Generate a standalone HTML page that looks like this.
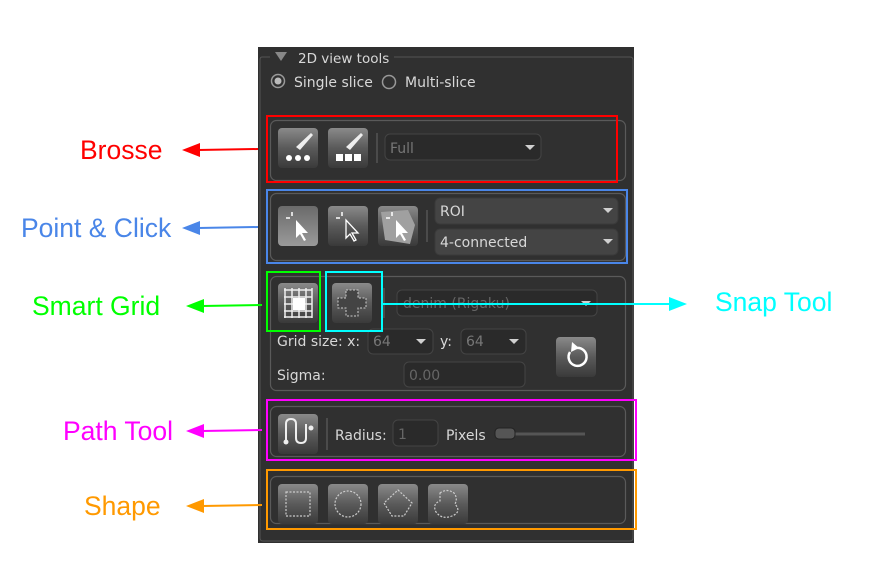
<!DOCTYPE html>
<html><head><meta charset="utf-8"><style>
html,body{margin:0;padding:0;background:#fff;width:876px;height:571px;overflow:hidden}
svg{display:block}
.ui{font-family:"DejaVu Sans","Liberation Sans",sans-serif;font-size:14px;fill:#d8d8d8}
.lab{font-family:"Liberation Sans",sans-serif;font-size:26.5px}
</style></head><body>
<svg width="876" height="571" viewBox="0 0 876 571" xmlns="http://www.w3.org/2000/svg">
<defs>
<linearGradient id="btn" x1="0" y1="0" x2="0" y2="1">
<stop offset="0" stop-color="#8a8a8a"/><stop offset="0.5" stop-color="#5a5a5a"/><stop offset="1" stop-color="#3a3a3a"/></linearGradient>
<linearGradient id="btn2" x1="0" y1="0" x2="0" y2="1">
<stop offset="0" stop-color="#6a6a6a"/><stop offset="1" stop-color="#9a9a9a"/></linearGradient>
<g id="tri"><path d="M0 0 L10 0 L5 5 Z" fill="#d0d0d0"/></g>
</defs>
<rect x="258" y="47" width="376" height="496" fill="#303030"/>
<path d="M270 57 H262 Q260 57 260 60 V538 Q260 541 263 541 H630 Q633 541 633 538 V60 Q633 57 630 57 H394" fill="none" stroke="#555" stroke-width="1"/>
<path d="M275 52 L287 52 L281 61 Z" fill="#888"/>
<text x="298" y="63" class="ui" style="font-size:13.5px">2D view tools</text>
<circle cx="278" cy="81" r="6.5" fill="none" stroke="#999" stroke-width="1.5"/><circle cx="278" cy="81" r="3.5" fill="#bbb"/>
<text x="294" y="87" class="ui">Single slice</text>
<circle cx="389" cy="82" r="6.5" fill="none" stroke="#999" stroke-width="1.5"/>
<text x="405" y="87" class="ui">Multi-slice</text>

<g fill="none" stroke="#5a5a5a" stroke-width="1.2">
<rect x="270.5" y="120.5" width="355" height="60" rx="6"/>
<rect x="270.5" y="193.5" width="355" height="67" rx="6"/>
<rect x="270.5" y="276.5" width="355" height="114" rx="6"/>
<rect x="270.5" y="406.5" width="355" height="50" rx="6"/>
<rect x="270.5" y="476.5" width="355" height="47" rx="6"/>
</g>

<rect x="278" y="128" width="40" height="40" rx="4" fill="url(#btn)"/>
<rect x="328" y="128" width="40" height="40" rx="4" fill="url(#btn)"/>
<path d="M296 147 L311 133 L313 135 L300 150 Z" fill="#eee"/>
<circle cx="289" cy="158" r="3" fill="#fff"/><circle cx="298" cy="158" r="3" fill="#fff"/><circle cx="307" cy="158" r="3" fill="#fff"/>
<path d="M346 147 L361 133 L363 135 L350 150 Z" fill="#eee"/>
<rect x="336" y="154" width="7" height="7" fill="#fff"/><rect x="345" y="154" width="7" height="7" fill="#fff"/><rect x="354" y="154" width="7" height="7" fill="#fff"/>
<line x1="377" y1="133" x2="377" y2="163" stroke="#666"/>
<rect x="385" y="134" width="156" height="26" rx="5" fill="#2a2a2a" stroke="#444"/>
<text x="390" y="153" class="ui" style="fill:#777">Full</text>
<use href="#tri" x="525" y="145"/>

<rect x="278" y="206" width="40" height="40" rx="4" fill="url(#btn2)"/>
<rect x="328" y="206" width="40" height="40" rx="4" fill="url(#btn)"/>
<rect x="378" y="206" width="40" height="40" rx="4" fill="url(#btn)"/>
<path d="M381 212 L408 210 L415 225 L410 244 L385 240 Z" fill="#a0a0a0"/>
<g fill="#fff"><path d="M296 220 L296 238 L300 234 L304 241 L306 240 L302 233 L308 233 Z"/>
<path d="M346 220 L346 238 L350 234 L354 241 L356 240 L352 233 L358 233 Z" fill="none" stroke="#fff" stroke-width="1.3"/>
<path d="M396 220 L396 238 L400 234 L404 241 L406 240 L402 233 L408 233 Z"/></g>
<g stroke="#fff" stroke-width="1.5"><line x1="292" y1="212" x2="292" y2="216"/><line x1="286" y1="218" x2="290" y2="218"/><line x1="342" y1="212" x2="342" y2="216"/><line x1="336" y1="218" x2="340" y2="218"/><line x1="392" y1="212" x2="392" y2="216"/><line x1="386" y1="218" x2="390" y2="218"/></g>
<line x1="427" y1="210" x2="427" y2="242" stroke="#666"/>
<rect x="435" y="198" width="183" height="26" rx="5" fill="#444" stroke="#3a3a3a"/>
<text x="440" y="216" class="ui">ROI</text><use href="#tri" x="603" y="208"/>
<rect x="435" y="229" width="183" height="26" rx="5" fill="#444" stroke="#3a3a3a"/>
<text x="440" y="247" class="ui">4-connected</text><use href="#tri" x="603" y="239"/>

<rect x="278" y="283" width="40" height="40" rx="4" fill="url(#btn)"/>
<g stroke="#eee" stroke-width="1.5"><line x1="284" y1="290" x2="312" y2="290"/><line x1="284" y1="297" x2="312" y2="297"/><line x1="284" y1="304" x2="312" y2="304"/><line x1="284" y1="311" x2="312" y2="311"/><line x1="284" y1="317" x2="312" y2="317"/>
<line x1="285" y1="288" x2="285" y2="318"/><line x1="292" y1="288" x2="292" y2="318"/><line x1="299" y1="288" x2="299" y2="318"/><line x1="306" y1="288" x2="306" y2="318"/><line x1="312" y1="288" x2="312" y2="318"/></g>
<rect x="293" y="298" width="12" height="12" fill="#fff"/>
<rect x="332" y="283" width="40" height="40" rx="4" fill="url(#btn)"/>
<path d="M346 290 H358 V298 H366 V308 H358 V316 H346 V308 H338 V298 H346 Z" fill="#444" stroke="#ccc" stroke-dasharray="2 1.5"/>
<line x1="384" y1="288" x2="384" y2="318" stroke="#666"/>
<rect x="397" y="290" width="200" height="26" rx="5" fill="#2a2a2a" stroke="#444"/>
<text x="403" y="308" class="ui" style="fill:#666">denim (Rigaku)</text><use href="#tri" x="581" y="301"/>
<text x="277" y="346" class="ui">Grid size:  x:</text>
<rect x="368" y="329" width="65" height="25" rx="5" fill="#2a2a2a" stroke="#444"/>
<text x="373" y="346" class="ui" style="fill:#777">64</text><use href="#tri" x="416" y="339"/>
<text x="440" y="346" class="ui">y:</text>
<rect x="461" y="329" width="65" height="25" rx="5" fill="#2a2a2a" stroke="#444"/>
<text x="466" y="346" class="ui" style="fill:#777">64</text><use href="#tri" x="509" y="339"/>
<text x="277" y="380" class="ui">Sigma:</text>
<rect x="404" y="362" width="121" height="25" rx="5" fill="#2a2a2a" stroke="#444"/>
<text x="409" y="380" class="ui" style="fill:#666">0.00</text>
<rect x="556" y="337" width="40" height="40" rx="4" fill="url(#btn)"/>
<path d="M570 352 A9 9 0 1 0 576 348" fill="none" stroke="#fff" stroke-width="2.5"/><path d="M572 342 L579 348 L571 352 Z" fill="#fff"/>

<rect x="278" y="414" width="40" height="40" rx="4" fill="url(#btn)"/>
<path d="M286 440 V424 Q286 419 291 419 Q296 419 296 424 V438 Q296 443 301 443 Q306 443 306 438 V424" fill="none" stroke="#eee" stroke-width="2"/>
<circle cx="286" cy="442" r="2.5" fill="#eee"/><circle cx="311" cy="428" r="2.5" fill="#eee"/>
<line x1="327" y1="418" x2="327" y2="450" stroke="#666"/>
<text x="335" y="440" class="ui">Radius:</text>
<rect x="393" y="420" width="45" height="26" rx="5" fill="#2a2a2a" stroke="#444"/>
<text x="398" y="439" class="ui" style="fill:#666">1</text>
<text x="446" y="440" class="ui">Pixels</text>
<line x1="500" y1="434" x2="585" y2="434" stroke="#555" stroke-width="3"/>
<rect x="495" y="428" width="20" height="11" rx="4" fill="#555" stroke="#222"/>

<g fill="url(#btn)"><rect x="278" y="484" width="40" height="40" rx="4"/><rect x="328" y="484" width="40" height="40" rx="4"/><rect x="378" y="484" width="40" height="40" rx="4"/><rect x="428" y="484" width="40" height="40" rx="4"/></g>
<g fill="none" stroke="#ccc" stroke-dasharray="2 1.5" stroke-width="1.2">
<rect x="286" y="492" width="24" height="24"/>
<circle cx="348" cy="504" r="13"/>
<path d="M398 490 L412 503 L404 516 L392 516 L384 503 Z"/>
<path d="M440 493 Q447 488 454 493 Q458 498 455 504 Q462 512 452 516 Q442 520 436 512 Q432 504 440 501 Z"/>
</g>

<g fill="none" stroke-width="2">
<rect x="267" y="116" width="350" height="66" stroke="#ff0000"/>
<rect x="267" y="190" width="360" height="73" stroke="#4a86e8"/>
<rect x="267" y="272" width="53" height="59" stroke="#00ff00"/>
<rect x="326" y="272" width="56" height="59" stroke="#00ffff"/>
<rect x="267" y="400" width="369" height="60" stroke="#ff00ff"/>
<rect x="267" y="470" width="369" height="59" stroke="#ff9900"/>
</g>

<g stroke-width="2">
<line x1="258" y1="149" x2="198" y2="150" stroke="#ff0000"/><path d="M182 150 L200 143 L200 157 Z" fill="#ff0000"/>
<line x1="258" y1="227" x2="198" y2="228" stroke="#4a86e8"/><path d="M182 228 L200 221 L200 235 Z" fill="#4a86e8"/>
<line x1="262" y1="305" x2="202" y2="306" stroke="#00ff00"/><path d="M186 306 L204 299 L204 313 Z" fill="#00ff00"/>
<line x1="262" y1="430" x2="202" y2="431" stroke="#ff00ff"/><path d="M186 431 L204 424 L204 438 Z" fill="#ff00ff"/>
<line x1="262" y1="505" x2="202" y2="506" stroke="#ff9900"/><path d="M186 506 L204 499 L204 513 Z" fill="#ff9900"/>
<line x1="382" y1="304" x2="670" y2="304" stroke="#00ffff"/><path d="M687 304 L669 297 L669 311 Z" fill="#00ffff"/>
</g>
<text x="80" y="159" class="lab" fill="#ff0000">Brosse</text>
<text x="21" y="237" class="lab" fill="#4a86e8">Point &amp; Click</text>
<text x="32" y="315" class="lab" fill="#00ff00">Smart Grid</text>
<text x="715" y="311" class="lab" fill="#00ffff">Snap Tool</text>
<text x="63" y="440" class="lab" fill="#ff00ff">Path Tool</text>
<text x="84" y="515" class="lab" fill="#ff9900">Shape</text>
</svg>
</body></html>
